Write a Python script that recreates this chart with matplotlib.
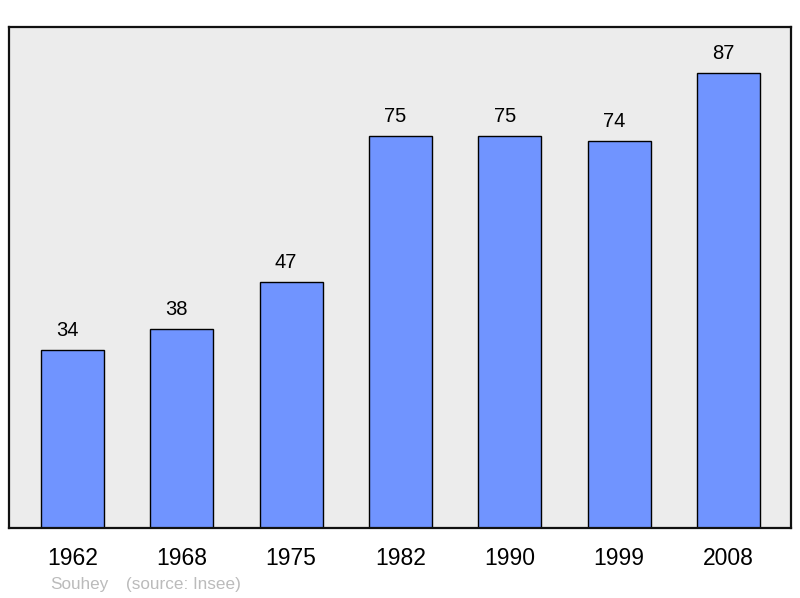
import matplotlib.pyplot as plt

years = ["1962", "1968", "1975", "1982", "1990", "1999", "2008"]
population = [34, 38, 47, 75, 75, 74, 87]

plt.rcParams['font.family'] = ['Liberation Sans', 'DejaVu Sans']

fig = plt.figure(figsize=(8, 5.98), dpi=100)
# axes box in pixels: left 9, right 791, top 27, bottom 528
ax = fig.add_axes([9 / 800, 1 - 528 / 598, 782 / 800, 501 / 598])
ax.set_facecolor('#ececec')

x = list(range(len(years)))
ax.bar(x, population, width=0.576, color='#7094ff', edgecolor='black', linewidth=1.0, zorder=2)

for xi, v in zip(x, population):
    ax.annotate(str(v), (xi, v), xytext=(-5, 10), textcoords='offset pixels',
                ha='center', va='bottom', fontsize=14.5, color='black')

ax.set_xlim(-0.58, 6.572)
ax.set_ylim(0, 95.8)
ax.set_xticks(x)
ax.set_xticklabels(years, fontsize=16.5)
ax.tick_params(axis='x', length=0, pad=14)
ax.set_yticks([])
for s in ax.spines.values():
    s.set_linewidth(1.6)
    s.set_color('#111111')

fig.text(50 / 800, 1 - 585 / 598, "Souhey", fontsize=12.3, color='#bbbbbb', va='center', ha='left')
fig.text(126 / 800, 1 - 585 / 598, "(source: Insee)", fontsize=12.3, color='#bbbbbb', va='center', ha='left')

fig.savefig('out.png', dpi=100, facecolor='white')
